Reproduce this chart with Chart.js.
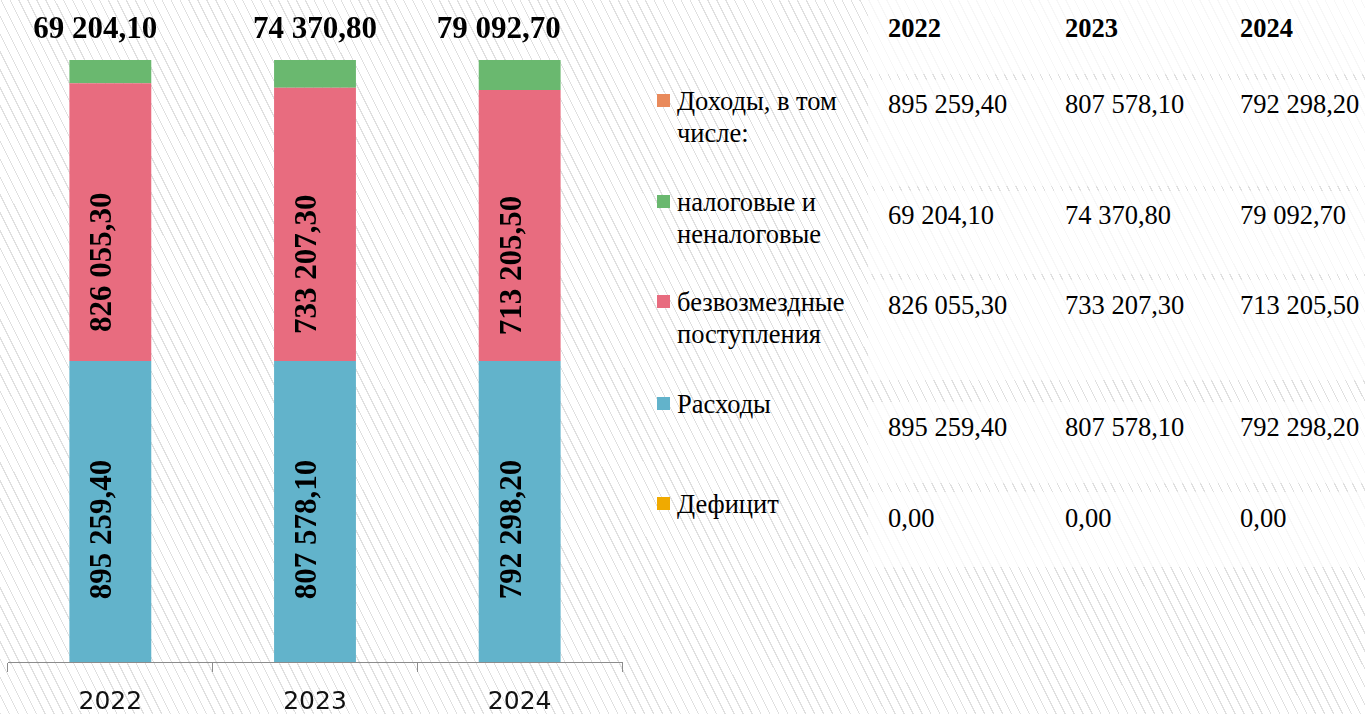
<!DOCTYPE html>
<html>
<head>
<meta charset="utf-8">
<script src="https://cdn.jsdelivr.net/npm/chart.js@4.4.1/dist/chart.umd.min.js"></script>
<style>
    body {
        margin: 0;
        width: 1365px;
        height: 714px;
        overflow: hidden;
        position: relative;
        background: #fff repeating-linear-gradient(63.4deg, #e0e0e0 0px, #e0e0e0 1.1px, rgba(255,255,255,0) 1.1px, rgba(255,255,255,0) 8px);
        font-family: 'Liberation Serif', 'Times New Roman', serif;
        color: #000;
    }
    #chartBox { position: absolute; left: 0; top: 0; width: 640px; height: 714px; }
    .band { position: absolute; left: 868px; width: 497px; background: rgba(255,255,255,0.72); }
    .txt { position: absolute; font-size: 26.5px; line-height: 32px; white-space: pre; }
    .hdr { font-weight: bold; }
    .sq { position: absolute; width: 13px; height: 13px; }
</style>
</head>
<body>
<div id="table"></div>
<div id="chartBox"><canvas id="budgetChart" width="640" height="714"></canvas></div>
<script>
// data
var years = ['2022', '2023', '2024'];
var dohody = [895259.40, 807578.10, 792298.20];
var nalogovye = [69204.10, 74370.80, 79092.70];
var bezvozmezdnye = [826055.30, 733207.30, 713205.50];
var rashody = [895259.40, 807578.10, 792298.20];
var deficit = [0.00, 0.00, 0.00];

var rowNames = ['Доходы, в том\nчисле:', 'налоговые и\nненалоговые', 'безвозмездные\nпоступления', 'Расходы', 'Дефицит'];
var rowValues = [dohody, nalogovye, bezvozmezdnye, rashody, deficit];
var rowColors = ['#E98A5B', '#6AB86F', '#E86C7F', '#62B3CB', '#F0AA00'];

// layout of the table on the right
var colX = [888, 1065, 1240];
var labelTop = [85, 186, 286, 388, 488];
var valueTop = [88, 199, 289, 411, 502];
var bands = [[0, 74], [80, 186], [191, 274], [280, 380], [402, 483], [492, 567]];

function fmt(v) {
    var parts = v.toFixed(2).split('.');
    parts[0] = parts[0].replace(/\B(?=(\d{3})+(?!\d))/g, ' ');
    return parts[0] + ',' + parts[1];
}

function buildTable() {
    var html = '';
    bands.forEach(function (b) {
        html += '<div class="band" style="top:' + b[0] + 'px;height:' + (b[1] - b[0]) + 'px"></div>';
    });
    years.forEach(function (y, j) {
        html += '<div class="txt hdr" style="left:' + colX[j] + 'px;top:12px">' + y + '</div>';
    });
    rowNames.forEach(function (name, i) {
        html += '<div class="sq" style="left:657px;top:' + (labelTop[i] + 9) + 'px;background:' + rowColors[i] + '"></div>';
        html += '<div class="txt" style="left:677px;top:' + labelTop[i] + 'px">' + name + '</div>';
        for (var j = 0; j < years.length; j++) {
            html += '<div class="txt" style="left:' + colX[j] + 'px;top:' + valueTop[i] + 'px">' + fmt(rowValues[i][j]) + '</div>';
        }
    });
    document.getElementById('table').innerHTML = html;
}
buildTable();

// 100% stacked shares
function share(arr) {
    return arr.map(function (v, i) {
        var total = rashody[i] + bezvozmezdnye[i] + nalogovye[i];
        return v / total * 100;
    });
}

var valueLabels = {
    id: 'valueLabels',
    afterDatasetsDraw: function (chart, args, opts) {
        var ctx = chart.ctx;
        ctx.save();
        ctx.fillStyle = '#000';
        ctx.font = 'bold 31px "Liberation Serif"';
        chart.data.datasets.forEach(function (ds, di) {
            var meta = chart.getDatasetMeta(di);
            meta.data.forEach(function (bar, i) {
                var v = ds.raw[i];
                if (ds.labelPos === 'top') {
                    ctx.textAlign = 'center';
                    ctx.textBaseline = 'alphabetic';
                    ctx.fillText(fmt(v), bar.x + opts.topShift[i], bar.y - 22);
                } else {
                    var cy = (bar.y + bar.base) / 2 + ds.labelShift;
                    ctx.save();
                    ctx.translate(bar.x - 7, cy);
                    ctx.rotate(-Math.PI / 2);
                    ctx.textAlign = 'center';
                    ctx.textBaseline = 'middle';
                    ctx.fillText(fmt(v), 0, 0);
                    ctx.restore();
                }
            });
        });
        ctx.restore();
    }
};

var ctx = document.getElementById('budgetChart').getContext('2d');
var myChart = new Chart(ctx, {
    type: 'bar',
    data: {
        labels: years,
        datasets: [
            { label: 'Расходы', data: share(rashody), raw: rashody, backgroundColor: '#62B3CB', labelShift: 18 },
            { label: 'безвозмездные поступления', data: share(bezvozmezdnye), raw: bezvozmezdnye, backgroundColor: '#E86C7F', labelShift: 40 },
            { label: 'налоговые и неналоговые', data: share(nalogovye), raw: nalogovye, backgroundColor: '#6AB86F', labelPos: 'top' }
        ]
    },
    options: {
        responsive: false,
        animation: false,
        barPercentage: 0.4,
        categoryPercentage: 1.0,
        layout: { padding: { left: 8, right: 18, top: 60, bottom: 0 } },
        plugins: {
            legend: { display: false },
            tooltip: { enabled: false },
            valueLabels: { topShift: [-15, 0, -21] }
        },
        scales: {
            x: {
                stacked: true,
                afterFit: function (s) { s.height = 52; },
                grid: { offset: true, drawOnChartArea: false, drawTicks: true, tickLength: 10, color: '#8c8c8c', lineWidth: 1 },
                border: { display: true, color: '#8c8c8c', width: 1 },
                ticks: { color: '#111', padding: 15, font: { family: 'DejaVu Sans', size: 25 } }
            },
            y: {
                stacked: true,
                display: false,
                min: 0,
                max: 100
            }
        }
    },
    plugins: [valueLabels]
});
</script>
</body>
</html>
